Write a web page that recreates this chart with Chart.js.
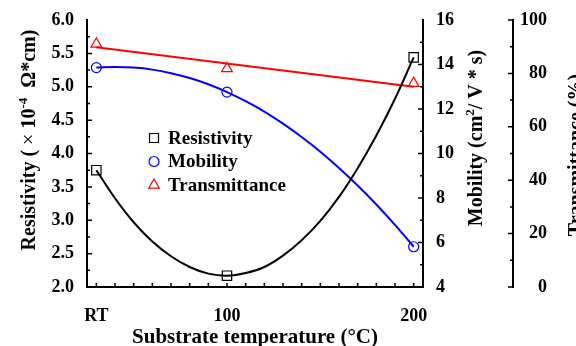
<!DOCTYPE html>
<html lang="en">
<head>
<meta charset="UTF-8">
<title>Resistivity, mobility and transmittance vs substrate temperature</title>
<script src="https://cdn.jsdelivr.net/npm/chart.js"></script>
<style>
  body { margin: 0; background: #fff; }
  .wrap { position: relative; width: 576px; height: 346px; }
</style>
</head>
<body>
<div class="wrap"><canvas id="chart"></canvas></div>
<script>
// measured points (RT sits at about 30 °C on the axis)
const tempLabels = ['RT', '100', '200'];
const tempValues = [30, 100, 200];
const resistivity = [3.75, 2.17, 5.44];     // x10^-4 ohm cm
const mobility = [13.86, 12.76, 5.81];      // cm2/V s
const transmittance = [91.0, 81.8, 76.3];   // %

// fitted curves, every 10 °C
const fitTemps = [30, 40, 50, 60, 70, 80, 90, 100, 110, 120, 130, 140, 150, 160, 170, 180, 190, 200];
const resistivityFit = [3.75, 3.33, 2.97, 2.68, 2.46, 2.30, 2.20, 2.17, 2.21, 2.30, 2.47, 2.70,
    2.99, 3.35, 3.78, 4.27, 4.82, 5.44];
const mobilityFit = [13.86, 13.89, 13.86, 13.77, 13.61, 13.39, 13.11, 12.76, 12.35, 11.88, 11.34,
    10.74, 10.08, 9.35, 8.56, 7.71, 6.79, 5.81];
const transFitTemps = [30, 200];
const transmittanceFit = [89.8, 75.0];

// legend rows
const legendNames = ['Resistivity', 'Mobility', 'Transmittance'];
const legendColors = ['#000000', '#0000ff', '#ff0000'];
const legendShapes = ['rect', 'circle', 'triangle'];

const FONT = "'Liberation Serif', 'Times New Roman', serif";

function pts(xs, ys) {
    return xs.map((x, i) => ({ x: x, y: ys[i] }));
}

function fitLine(xs, ys, color, axis, tension) {
    return {
        data: pts(xs, ys),
        yAxisID: axis,
        showLine: true,
        borderColor: color,
        borderWidth: 2,
        pointRadius: 0,
        tension: tension,
    };
}

function markers(ys, color, axis, shape, r) {
    return {
        data: pts(tempValues, ys),
        yAxisID: axis,
        showLine: false,
        pointStyle: shape,
        pointRadius: r,
        borderColor: color,
        backgroundColor: 'rgba(0,0,0,0)',
        pointBorderWidth: 1.2,
    };
}

function marker(ctx, shape, x, y, color) {
    ctx.save();
    ctx.strokeStyle = color;
    ctx.lineWidth = 1.2;
    ctx.beginPath();
    if (shape === 'rect') {
        ctx.rect(x - 4.5, y - 4.5, 9, 9);
    } else if (shape === 'circle') {
        ctx.arc(x, y, 5, 0, Math.PI * 2);
    } else {
        ctx.moveTo(x, y - 6);
        ctx.lineTo(x + 5.3, y + 3.2);
        ctx.lineTo(x - 5.3, y + 3.2);
        ctx.closePath();
    }
    ctx.stroke();
    ctx.restore();
}

// text made of pieces (for superscripts), drawn along a baseline
function richText(ctx, parts, x, y, angle) {
    ctx.save();
    ctx.translate(x, y);
    ctx.rotate(angle);
    ctx.fillStyle = '#000';
    ctx.textBaseline = 'alphabetic';
    ctx.textAlign = 'left';
    let total = 0;
    parts.forEach(p => { ctx.font = p.f; total += ctx.measureText(p.t).width; });
    let cx = -total / 2;
    parts.forEach(p => {
        ctx.font = p.f;
        ctx.fillText(p.t, cx, p.dy || 0);
        cx += ctx.measureText(p.t).width;
    });
    ctx.restore();
}

const decorations = {
    id: 'decorations',
    afterDraw(chart) {
        const ctx = chart.ctx;
        const area = chart.chartArea;
        const sx = chart.scales.x, sy = chart.scales.y, sy2 = chart.scales.y2, sy3 = chart.scales.y3;

        ctx.save();
        ctx.strokeStyle = '#000';
        ctx.lineWidth = 1.5;
        ctx.beginPath();
        // bottom axis ticks, inward
        for (let t = 30; t <= 200; t += 10) {
            const px = sx.getPixelForValue(t);
            ctx.moveTo(px, area.bottom);
            ctx.lineTo(px, area.bottom - 4);
        }
        // left axis, inward
        for (let v = 2.25; v < 6; v += 0.25) {
            const py = sy.getPixelForValue(v);
            const len = Math.abs(v * 2 - Math.round(v * 2)) < 0.01 ? 5 : 3;
            ctx.moveTo(area.left, py);
            ctx.lineTo(area.left + len, py);
        }
        // mobility axis, inward
        for (let v = 5; v < 16; v += 1) {
            const py = sy2.getPixelForValue(v);
            const len = v % 2 === 0 ? 5 : 3;
            ctx.moveTo(area.right, py);
            ctx.lineTo(area.right - len, py);
        }
        // transmittance axis, ticks to the left
        for (let v = 0; v <= 100; v += 10) {
            const py = sy3.getPixelForValue(v);
            const len = v % 20 === 0 ? 5 : 3;
            ctx.moveTo(sy3.left, py);
            ctx.lineTo(sy3.left - len, py);
        }
        ctx.stroke();
        ctx.restore();

        // transmittance tick labels, right aligned
        ctx.save();
        ctx.font = 'bold 18px ' + FONT;
        ctx.fillStyle = '#000';
        ctx.textAlign = 'right';
        ctx.textBaseline = 'middle';
        sy3.ticks.forEach(t => {
            ctx.fillText(String(t.value), sy3.left + 34, sy3.getPixelForValue(t.value));
        });
        ctx.restore();

        // axis titles
        const big = 'bold 20px ' + FONT;
        const sup = 'bold 13px ' + FONT;
        richText(ctx, [
            { t: 'Resistivity (', f: big },
            { t: ' \u00d7 ', f: '20px ' + FONT },
            { t: '10', f: big },
            { t: '-4', f: sup, dy: -8 },
            { t: '  \u03a9*cm)', f: big },
        ], 35, 140, -Math.PI / 2);
        richText(ctx, [
            { t: 'Mobility (cm', f: big },
            { t: '2', f: sup, dy: -8 },
            { t: '/ V * s)', f: big },
        ], 482, 138, -Math.PI / 2);
        richText(ctx, [{ t: 'Transmittance (%)', f: big }], 582, 155, -Math.PI / 2);
        richText(ctx, [{ t: 'Substrate temperature (\u00b0C)', f: 'bold 21px ' + FONT }],
            (area.left + area.right) / 2, 343, 0);

        // legend inside the plot
        ctx.save();
        ctx.font = 'bold 19px ' + FONT;
        ctx.fillStyle = '#000';
        ctx.textBaseline = 'middle';
        legendNames.forEach((name, i) => {
            const y = 138 + i * 23.5;
            marker(ctx, legendShapes[i], 154, y, legendColors[i]);
            ctx.fillText(name, 168, y + 1);
        });
        ctx.restore();
    }
};

const tickFont = { family: FONT, size: 18, weight: 'bold' };

new Chart(document.getElementById('chart'), {
    type: 'scatter',
    data: {
        datasets: [
            fitLine(fitTemps, resistivityFit, '#000000', 'y', 0.4),
            fitLine(fitTemps, mobilityFit, '#0000ff', 'y2', 0.4),
            fitLine(transFitTemps, transmittanceFit, '#ff0000', 'y3', 0),
            markers(resistivity, '#000000', 'y', 'rect', 6.6),
            markers(mobility, '#0000ff', 'y2', 'circle', 5),
            markers(transmittance, '#ff0000', 'y3', 'triangle', 6.2),
        ],
    },
    options: {
        responsive: true,
        maintainAspectRatio: false,
        animation: false,
        layout: { padding: { top: 20, left: 0, right: 0, bottom: 0 } },
        plugins: {
            legend: { display: false },
            tooltip: { enabled: false },
        },
        scales: {
            x: {
                type: 'linear',
                position: 'bottom',
                min: 25,
                max: 205,
                grid: { display: false },
                border: { color: '#000', width: 2 },
                afterBuildTicks: s => { s.ticks = tempValues.map(v => ({ value: v })); },
                afterFit: s => { s.height = 59; },
                ticks: {
                    font: tickFont,
                    color: '#000',
                    padding: 11,
                    maxRotation: 0,
                    autoSkip: false,
                    callback: v => tempLabels[tempValues.indexOf(v)],
                },
            },
            y: {
                position: 'left',
                min: 2,
                max: 6,
                grid: { display: false },
                border: { color: '#000', width: 2 },
                afterFit: s => { s.width = 87; },
                ticks: {
                    stepSize: 0.5,
                    font: tickFont,
                    color: '#000',
                    padding: 5,
                    callback: v => v.toFixed(1),
                },
            },
            y2: {
                position: 'right',
                weight: 0,
                min: 4,
                max: 16,
                grid: { display: false },
                border: { color: '#000', width: 2 },
                afterFit: s => { s.width = 90; },
                ticks: { stepSize: 2, font: tickFont, color: '#000', padding: 5 },
            },
            y3: {
                position: 'right',
                weight: 1,
                min: 0,
                max: 100,
                grid: { display: false },
                border: { color: '#000', width: 2 },
                afterFit: s => { s.width = 63; },
                ticks: { stepSize: 20, display: false },
            },
        },
    },
    plugins: [decorations],
});
</script>
</body>
</html>
